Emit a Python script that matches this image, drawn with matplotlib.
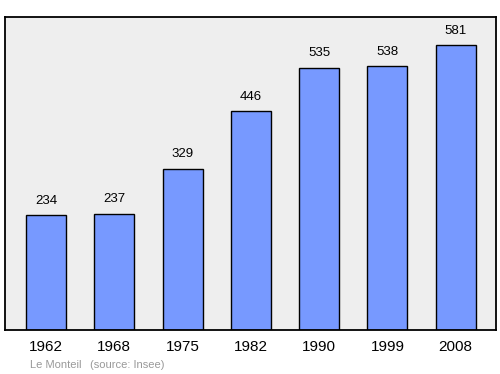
import matplotlib.pyplot as plt

plt.rcParams["font.family"] = ["Liberation Sans", "DejaVu Sans"]

years = ["1962", "1968", "1975", "1982", "1990", "1999", "2008"]
population = [234, 237, 329, 446, 535, 538, 581]

fig = plt.figure(figsize=(5, 3.74), dpi=100)
ax = fig.add_axes([0.01, 0.1176, 0.982, 0.837])
ax.set_facecolor("#eeeeee")

x = range(len(years))
bars = ax.bar(x, population, width=0.585, color="#7799ff", edgecolor="black", linewidth=1)
for xi, v in zip(x, population):
    ax.annotate(str(v), (xi, v), xytext=(0, 6), textcoords="offset points",
                ha="center", va="bottom", fontsize=9.5)

ax.set_xlim(-0.6, 6.59)
ax.set_ylim(0, 638)
ax.set_xticks(list(x))
ax.set_xticklabels(years, fontsize=11)
ax.tick_params(axis="x", length=0, pad=7)
ax.set_yticks([])
for s in ax.spines.values():
    s.set_linewidth(1.3)

fig.text(0.06, 0.015, "Le Monteil", fontsize=8, color="#999999")
fig.text(0.18, 0.015, "(source: Insee)", fontsize=8, color="#999999")

fig.savefig("out.png", dpi=100)
